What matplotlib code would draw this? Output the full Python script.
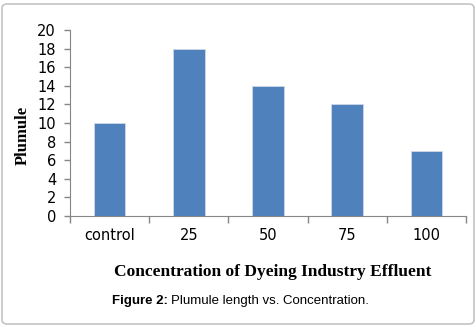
import matplotlib
matplotlib.use('Agg')
import matplotlib.pyplot as plt
from matplotlib.patches import FancyBboxPatch

categories = ['control', '25', '50', '75', '100']
plumule = [10, 18, 14, 12, 7]
yticks = [0, 2, 4, 6, 8, 10, 12, 14, 16, 18, 20]

W, H = 477, 327
fig = plt.figure(figsize=(W/100, H/100), dpi=100)

# rounded frame round the figure
frame = FancyBboxPatch((2/W, 3/H), (W-5)/W, (H-7)/H, boxstyle='round,pad=0,rounding_size=0.012',
                       transform=fig.transFigure, facecolor='none', edgecolor='#c4c4c4', lw=1.2, zorder=-1)
fig.patches.append(frame)

ax = fig.add_axes([70/W, (H-216)/H, 396/W, 186/H])
ax.patch.set_alpha(0)
x = range(len(categories))
ax.bar(x, plumule, width=0.4, color='#4F81BD', edgecolor='#d0d8e8', lw=0.6, zorder=2)

ax.set_xlim(-0.5, len(categories)-0.5)
ax.set_ylim(0, 20)
ax.set_yticks(yticks)
ax.set_xticks(list(x))
ax.set_xticklabels(categories)
ax.set_xticks([i-0.5 for i in range(len(categories)+1)], minor=True)
ax.tick_params(axis='x', which='major', length=0, pad=9)
ax.tick_params(axis='x', which='minor', length=5, color='#868686', width=1)
ax.tick_params(axis='y', length=4, color='#868686', width=1, pad=6)
for lab in ax.get_xticklabels() + ax.get_yticklabels():
    lab.set_family('DejaVu Sans')
    lab.set_fontsize(10.5)

for s in ['top', 'right']:
    ax.spines[s].set_visible(False)
for s in ['left', 'bottom']:
    ax.spines[s].set_color('#868686')

fig.text(23/W, 1-135/H, 'Plumule', rotation=90, ha='center', va='center',
         family='Liberation Serif', weight='bold', fontsize=12)
fig.text(273/W, 1-272/H, 'Concentration of Dyeing Industry Effluent', ha='center', va='center',
         family='Liberation Serif', weight='bold', fontsize=12.5)

t1 = fig.text(112/W, 1-301/H, 'Figure 2:', ha='left', va='center',
              family='Liberation Sans', weight='bold', fontsize=9.5)
fig.canvas.draw()
bb = t1.get_window_extent()
fig.text((bb.x1 + 3)/W, 1-301/H, 'Plumule length vs. Concentration.', ha='left', va='center',
         family='Liberation Sans', fontsize=9.5)

fig.savefig('out.png', dpi=100)
